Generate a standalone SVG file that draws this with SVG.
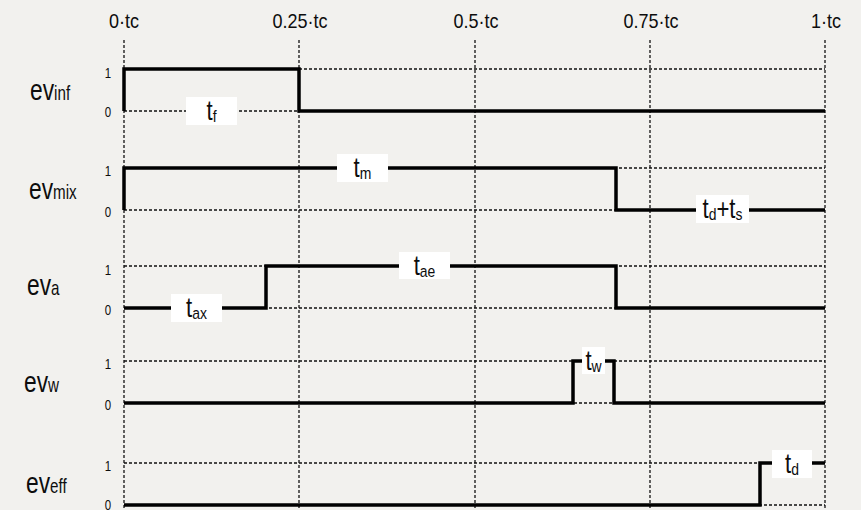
<svg xmlns="http://www.w3.org/2000/svg" width="861" height="510" viewBox="0 0 861 510">
  <style>
    .txt { font-family: "Liberation Sans", Arial, sans-serif; fill: #0d0d0d; }
    .axis { font-size: 20px; text-anchor: middle; }
    .lvl { font-size: 14px; text-anchor: middle; }
    .name { font-size: 30px; }
    .name .sub { font-size: 20px; }
    .tag { font-size: 27px; text-anchor: middle; }
    .tag .sub { font-size: 17px; }
    .grid { stroke: #111; stroke-width: 1.3; stroke-dasharray: 3 2; fill: none; }
    .sig { stroke: #000; stroke-width: 3.5; fill: none; stroke-linejoin: miter; }
    .box { fill: #fff; }
  </style>

  <rect x="0" y="0" width="861" height="510" fill="#f2f1ee"/>

  <!-- time axis labels (condensed lettering via horizontal scale) -->
  <g id="time-axis">
    <text class="txt axis" transform="translate(124 28) scale(0.9 1)">0·tc</text>
    <text class="txt axis" transform="translate(300 28) scale(0.9 1)">0.25·tc</text>
    <text class="txt axis" transform="translate(476 28) scale(0.9 1)">0.5·tc</text>
    <text class="txt axis" transform="translate(651 28) scale(0.9 1)">0.75·tc</text>
    <text class="txt axis" transform="translate(826 28) scale(0.9 1)">1·tc</text>
  </g>

  <!-- dotted grid: time marks and logic levels -->
  <g id="grid">
    <path class="grid" d="M124 40V510M299 40V510M475 40V510M650 40V510M825 40V510"/>
    <path class="grid" d="M124 69H825M124 111H825M124 168H825M124 210H825M124 266H825M124 308H825M124 361H825M124 403H825M124 463H825M124 505H825"/>
  </g>

  <!-- waveforms -->
  <g id="connectors">
    <path class="sig" d="M124 111V69H299V111H825"/>
    <path class="sig" d="M124 210V168H616V210H825"/>
    <path class="sig" d="M124 308H266V266H616V308H825"/>
    <path class="sig" d="M124 403H573V361H614V403H825"/>
    <path class="sig" d="M124 505H760V463H825"/>
  </g>

  <g id="ev-inf">
    <text class="txt name" transform="translate(30 100) scale(0.76 1)">ev<tspan class="sub">inf</tspan></text>
    <text class="txt lvl" transform="translate(108 78) scale(0.82 1)">1</text>
    <text class="txt lvl" transform="translate(108 117) scale(0.82 1)">0</text>
    <rect class="box" x="186" y="97" width="51" height="28"/>
    <text class="txt tag" transform="translate(211.5 120) scale(0.82 1)">t<tspan class="sub" dy="2">f</tspan></text>
  </g>

  <g id="ev-mix">
    <text class="txt name" transform="translate(29 199) scale(0.76 1)">ev<tspan class="sub">mix</tspan></text>
    <text class="txt lvl" transform="translate(108 176) scale(0.82 1)">1</text>
    <text class="txt lvl" transform="translate(108 217) scale(0.82 1)">0</text>
    <rect class="box" x="337" y="154" width="51" height="28"/>
    <text class="txt tag" transform="translate(362.5 177) scale(0.82 1)">t<tspan class="sub" dy="2">m</tspan></text>
    <rect class="box" x="696" y="195" width="53" height="28"/>
    <text class="txt tag" transform="translate(722.5 218) scale(0.82 1)">t<tspan class="sub" dy="2">d</tspan><tspan dy="-2">+t</tspan><tspan class="sub" dy="2">s</tspan></text>
  </g>

  <g id="ev-a">
    <text class="txt name" transform="translate(27 295) scale(0.76 1)">ev<tspan class="sub">a</tspan></text>
    <text class="txt lvl" transform="translate(108 275) scale(0.82 1)">1</text>
    <text class="txt lvl" transform="translate(108 315) scale(0.82 1)">0</text>
    <rect class="box" x="171" y="294" width="51" height="28"/>
    <text class="txt tag" transform="translate(196.5 317) scale(0.82 1)">t<tspan class="sub" dy="2">ax</tspan></text>
    <rect class="box" x="399" y="252" width="51" height="27"/>
    <text class="txt tag" transform="translate(424.5 274.5) scale(0.82 1)">t<tspan class="sub" dy="2">ae</tspan></text>
  </g>

  <g id="ev-w">
    <text class="txt name" transform="translate(24 392) scale(0.76 1)">ev<tspan class="sub">w</tspan></text>
    <text class="txt lvl" transform="translate(108 369) scale(0.82 1)">1</text>
    <text class="txt lvl" transform="translate(108 410) scale(0.82 1)">0</text>
    <rect class="box" x="582" y="347" width="23" height="27"/>
    <text class="txt tag" transform="translate(593.5 369.5) scale(0.82 1)">t<tspan class="sub" dy="2">w</tspan></text>
  </g>

  <g id="ev-eff">
    <text class="txt name" transform="translate(26 493) scale(0.76 1)">ev<tspan class="sub">eff</tspan></text>
    <text class="txt lvl" transform="translate(108 471) scale(0.82 1)">1</text>
    <text class="txt lvl" transform="translate(108 510) scale(0.82 1)">0</text>
    <rect class="box" x="772" y="450" width="40" height="28"/>
    <text class="txt tag" transform="translate(792 473) scale(0.82 1)">t<tspan class="sub" dy="2">d</tspan></text>
  </g>
</svg>
